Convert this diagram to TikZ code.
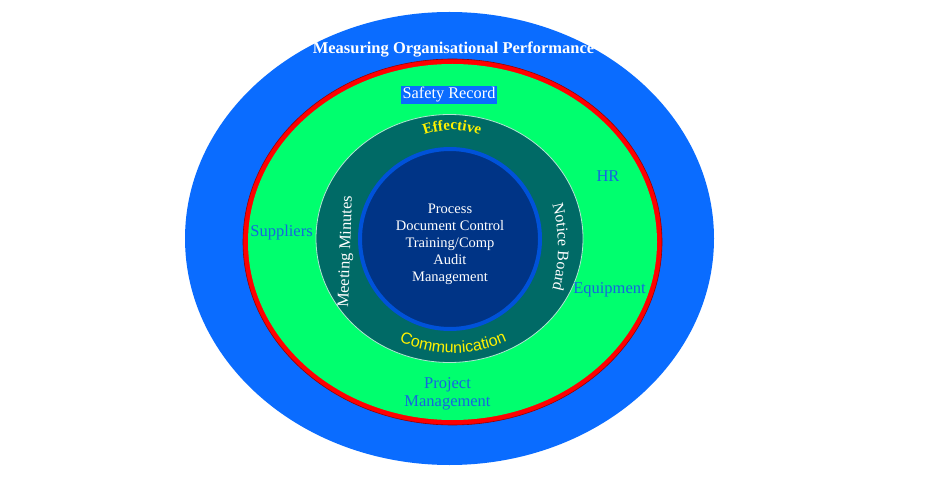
\documentclass[tikz,border=0pt]{standalone}
\usepackage{fontspec}
\setmainfont{Liberation Serif}
\newfontfamily\mySansFam{Liberation Sans}
\usetikzlibrary{decorations.text}
\definecolor{outerblue}{RGB}{10,108,255}
\definecolor{ringgreen}{RGB}{0,255,110}
\definecolor{ringred}{RGB}{255,0,0}
\definecolor{darkred}{RGB}{150,0,0}
\definecolor{tealring}{RGB}{0,106,102}
\definecolor{tealedge}{RGB}{175,230,210}
\definecolor{coreblue}{RGB}{0,52,134}
\definecolor{coreedge}{RGB}{0,82,217}
\definecolor{labelblue}{RGB}{22,100,225}
\newcommand{\myEffFont}{\bfseries\fontsize{15}{15}\selectfont}
\newcommand{\myComFont}{\mySansFam\fontsize{16}{16}\selectfont}
\newcommand{\myNbFont}{\fontsize{16}{16}\selectfont}
\begin{document}
\begin{tikzpicture}[x=1pt,y=-1pt,
  lbl/.style={text=labelblue, font=\fontsize{16.5}{18}\selectfont, inner sep=0pt},
  titlestyle/.style={text=white, font=\bfseries\fontsize{16.5}{18}\selectfont, inner sep=0pt},
  safetybox/.style={fill=outerblue, text=white, font=\fontsize{16.3}{18}\selectfont, inner xsep=1.5pt, inner ysep=1.2pt},
  coretext/.style={text=white, align=center, font=\fontsize{14.5}{17}\selectfont, inner sep=0pt},
  ringtext/.style={text=white, font=\fontsize{16.3}{18}\selectfont, inner sep=0pt},
  curvetext/.style={decorate, decoration={text along path, text align=center, text color=#1}}
]
\useasboundingbox (0,0) rectangle (950,478);
\fill[white] (0,0) rectangle (950,478);
% rings
\fill[outerblue] (449.5,238.5) ellipse[x radius=264.5, y radius=226.5];
\filldraw[fill=ringred, draw=darkred, line width=0.6pt] (452.5,242) ellipse[x radius=209.5, y radius=183];
\fill[ringgreen] (452.5,242) ellipse[x radius=204.5, y radius=178];
\filldraw[fill=tealring, draw=tealedge, line width=0.8pt] (449.5,238.5) ellipse[x radius=133.5, y radius=124];
\filldraw[fill=coreblue, draw=coreedge, line width=4pt] (450,239) circle[radius=90];
% texts
\node[titlestyle, anchor=base] (title) at (453.5,54) {Measuring Organisational Performance};
\node[safetybox, anchor=base] (safety) at (449,99) {Safety Record};
\node[coretext] (core) at (450,244) {Process\\Document Control\\Training/Comp\\Audit\\Management};
\node[lbl, anchor=base] (suppliers) at (281.5,237) {Suppliers};
\node[lbl, anchor=base] (hr) at (608,182) {HR};
\node[lbl, anchor=base] (equipment) at (609.5,294) {Equipment};
\node[lbl, align=center] (project) at (447.5,394) {Project\\Management};
\node[ringtext, rotate=88, anchor=base] (meeting) at (350,252) {Meeting Minutes};
% curved texts
\path[curvetext=yellow, decoration={text={|\myEffFont|Effective}}]
  (452,208) ++(225:78) arc[start angle=225, end angle=315, radius=78];
\path[curvetext=yellow, decoration={text={|\myComFont|Communication}}]
  (453,222) ++(122:131) arc[start angle=122, end angle=58, radius=131];
\path[curvetext=white, decoration={text={|\myNbFont|Notice Board}}]
  (398,247) ++(-18:160) arc[start angle=-18, end angle=18, radius=160];
\end{tikzpicture}
\end{document}
